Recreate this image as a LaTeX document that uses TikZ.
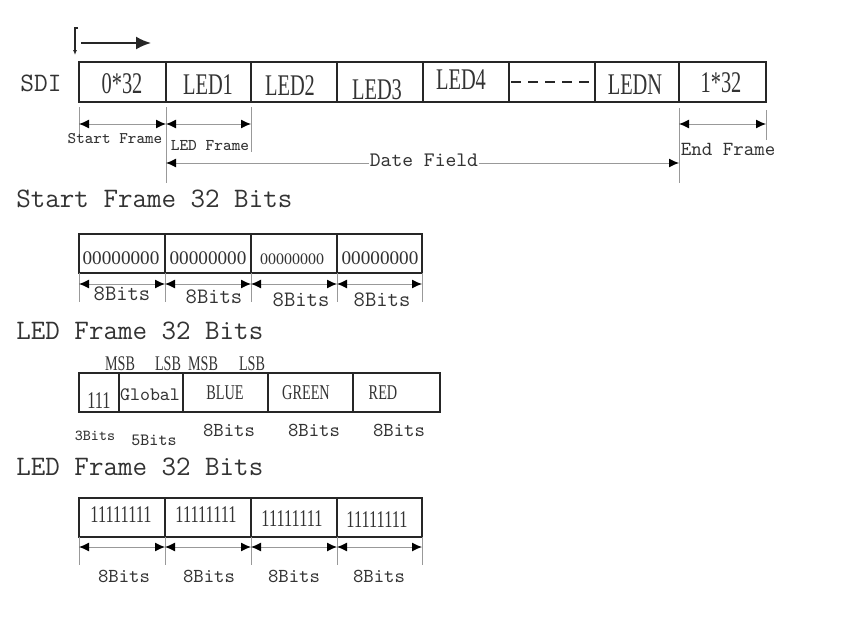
\documentclass[tikz,border=0pt]{standalone}
\usepackage{fontspec}
\setmainfont{Liberation Serif}
\newfontfamily\narrowserif[FakeStretch=0.68]{Liberation Serif}
\usetikzlibrary{arrows.meta}
\newlength{\du}
\setlength{\du}{0.5pt}
\definecolor{framecolor}{rgb}{0.150000, 0.150000, 0.150000}
\definecolor{dimcolor}{rgb}{0.600000, 0.600000, 0.600000}
\definecolor{inkcolor}{rgb}{0.200000, 0.200000, 0.200000}
\tikzset{
  cellbox/.style={draw=framecolor, line width=2\du},
  tickline/.style={draw=dimcolor, line width=1\du},
  dimarrow/.style={draw=dimcolor, line width=1\du,
    {Latex[length=5pt,width=4.5pt,color=black]}-{Latex[length=5pt,width=4.5pt,color=black]}},
  serifcell/.style={text=inkcolor, inner sep=0pt, font=\narrowserif\fontsize{#1pt}{#1pt}\selectfont},
  plaincell/.style={text=inkcolor, inner sep=0pt, font=\fontsize{#1pt}{#1pt}\selectfont},
  monolabel/.style={text=inkcolor, inner sep=0pt, font=\ttfamily\fontsize{#1pt}{#1pt}\selectfont},
}
\begin{document}
\begin{tikzpicture}
\pgftransformxscale{1.000000}
\pgftransformyscale{-1.000000}
\fill[white] (0\du,0\du) rectangle (850\du,623\du);
\useasboundingbox (0\du,0\du) rectangle (850\du,623\du);
% direction mark
\coordinate (dirtop) at (75\du,28\du);
\coordinate (dirhook) at (78\du,28\du);
\coordinate (dirbot) at (75\du,55\du);
\coordinate (dirstart) at (81\du,43\du);
\coordinate (dirend) at (151\du,43\du);
\draw[framecolor, line width=1.2\du, -{Latex[length=2.5pt,width=2pt]}] (dirhook) -- (dirtop) -- (dirbot);
\draw[framecolor, line width=2\du, -{Latex[length=7.5pt,width=6.5pt]}] (dirstart) -- (dirend);
% SDI stream
\node[monolabel=13.3] (sdi) at (41\du,83\du) {SDI};
\foreach \xl/\xr in {79/166,166/251,251/337,337/423,423/509,509/595,595/679,679/766}
  \draw[cellbox] (\xl\du,62\du) rectangle (\xr\du,102\du);
\foreach \x/\y/\nm/\txt in {122/84/zeroes/0*32, 208/85/ledone/LED1, 290/86/ledtwo/LED2,
  377/90/ledthree/LED3, 461/80/ledfour/LED4, 635/85/ledn/LEDN, 721/83/ones/1*32}
  \node[serifcell=15] (\nm) at (\x\du,\y\du) {\txt};
\coordinate (gapl) at (511\du,82\du);
\coordinate (gapr) at (593\du,82\du);
\draw[framecolor, line width=2.4\du, dash pattern=on 5pt off 3.5pt] (gapl) -- (gapr);
% SDI dimensions
\foreach \x/\nm/\ya/\yb in {79/tsa/107/135, 166/tsb/107/183, 251/tsc/107/152, 679/tsd/108/183, 766/tse/110/140} {
  \coordinate (\nm) at (\x\du,\ya\du);
  \draw[tickline] (\nm) -- (\x\du,\yb\du);
}
\coordinate (sfl) at (79\du,124\du);
\coordinate (sfr) at (166\du,124\du);
\coordinate (lfr) at (251\du,124\du);
\coordinate (efl) at (679\du,124\du);
\coordinate (efr) at (766\du,124\du);
\coordinate (dfl) at (166\du,163\du);
\coordinate (dfr) at (679\du,163\du);
\draw[dimarrow] (sfl) -- (sfr);
\draw[dimarrow] (sfr) -- (lfr);
\draw[dimarrow] (efl) -- (efr);
\draw[dimarrow] (dfl) -- (dfr);
\node[monolabel=8.1] (startlabel) at (115\du,139\du) {Start Frame};
\node[monolabel=8.2] (ledlabel) at (210\du,146\du) {LED Frame};
\node[monolabel=10.3, fill=white, inner xsep=1\du] (datefield) at (424\du,160\du) {Date Field};
\node[monolabel=10] (endlabel) at (728\du,149\du) {End Frame};
% start frame
\node[monolabel=14.1, anchor=west] (startheading) at (16\du,199\du) {Start Frame 32 Bits};
\foreach \xl/\xr in {79/165,165/251,251/337,337/422}
  \draw[cellbox] (\xl\du,234\du) rectangle (\xr\du,273\du);
\node[plaincell=9.6] (sbyteone) at (121\du,258\du) {00000000};
\node[plaincell=9.6] (sbytetwo) at (208\du,258\du) {00000000};
\node[plaincell=8] (sbytethree) at (292\du,259\du) {00000000};
\node[plaincell=9.6] (sbytefour) at (380\du,258\du) {00000000};
\foreach \x [count=\i] in {79,165,251,337,422} {
  \coordinate (sbtick\i) at (\x\du,273\du);
  \coordinate (sbarrow\i) at (\x\du,284\du);
  \draw[tickline] (sbtick\i) -- ++(0\du,29\du);
}
\foreach \i/\j in {1/2,2/3,3/4,4/5}
  \draw[dimarrow] (sbarrow\i) -- (sbarrow\j);
\foreach \x/\y [count=\i] in {122/294,214/297,301/300,382/300}
  \node[monolabel=11] (sbits\i) at (\x\du,\y\du) {8Bits};
% LED frame
\node[monolabel=14.1, anchor=west] (ledheading) at (16\du,331\du) {LED Frame 32 Bits};
\foreach \xl/\xr in {79/119,119/183,183/268,268/353,353/440}
  \draw[cellbox] (\xl\du,373\du) rectangle (\xr\du,412\du);
\node[serifcell=12] (header) at (99\du,401\du) {111};
\node[monolabel=9.5] (global) at (150\du,395\du) {Global};
\node[serifcell=10.5] (blue) at (225\du,393\du) {BLUE};
\node[serifcell=10.5] (green) at (306\du,393\du) {GREEN};
\node[serifcell=10.5] (red) at (383\du,393\du) {RED};
\node[serifcell=10.4] (msbone) at (120\du,364\du) {MSB};
\node[serifcell=10.4] (lsbone) at (168\du,364\du) {LSB};
\node[serifcell=10.4] (msbtwo) at (203\du,364\du) {MSB};
\node[serifcell=10.4] (lsbtwo) at (252\du,364\du) {LSB};
\node[monolabel=7.6] (threebits) at (95\du,436\du) {3Bits};
\node[monolabel=8.6] (fivebits) at (154\du,440\du) {5Bits};
\node[monolabel=9.9] (bluebits) at (229\du,430\du) {8Bits};
\node[monolabel=9.9] (greenbits) at (314\du,430\du) {8Bits};
\node[monolabel=9.9] (redbits) at (399\du,430\du) {8Bits};
% end frame
\node[monolabel=14.1, anchor=west] (endheading) at (16\du,467\du) {LED Frame 32 Bits};
\foreach \xl/\xr in {79/165,165/251,251/337,337/422}
  \draw[cellbox] (\xl\du,498\du) rectangle (\xr\du,537\du);
\foreach \x/\y [count=\i] in {121/515,206/515,292/519,377/520}
  \node[serifcell=12] (ebyte\i) at (\x\du,\y\du) {11111111};
\foreach \x [count=\i] in {79,165,251,337,422} {
  \coordinate (ebtick\i) at (\x\du,537\du);
  \coordinate (ebarrow\i) at (\x\du,547\du);
  \draw[tickline] (ebtick\i) -- ++(0\du,28\du);
}
\foreach \i/\j in {1/2,2/3,3/4,4/5}
  \draw[dimarrow] (ebarrow\i) -- (ebarrow\j);
\foreach \x [count=\i] in {124,209,294,379}
  \node[monolabel=9.9] (ebits\i) at (\x\du,576\du) {8Bits};
\end{tikzpicture}
\end{document}
